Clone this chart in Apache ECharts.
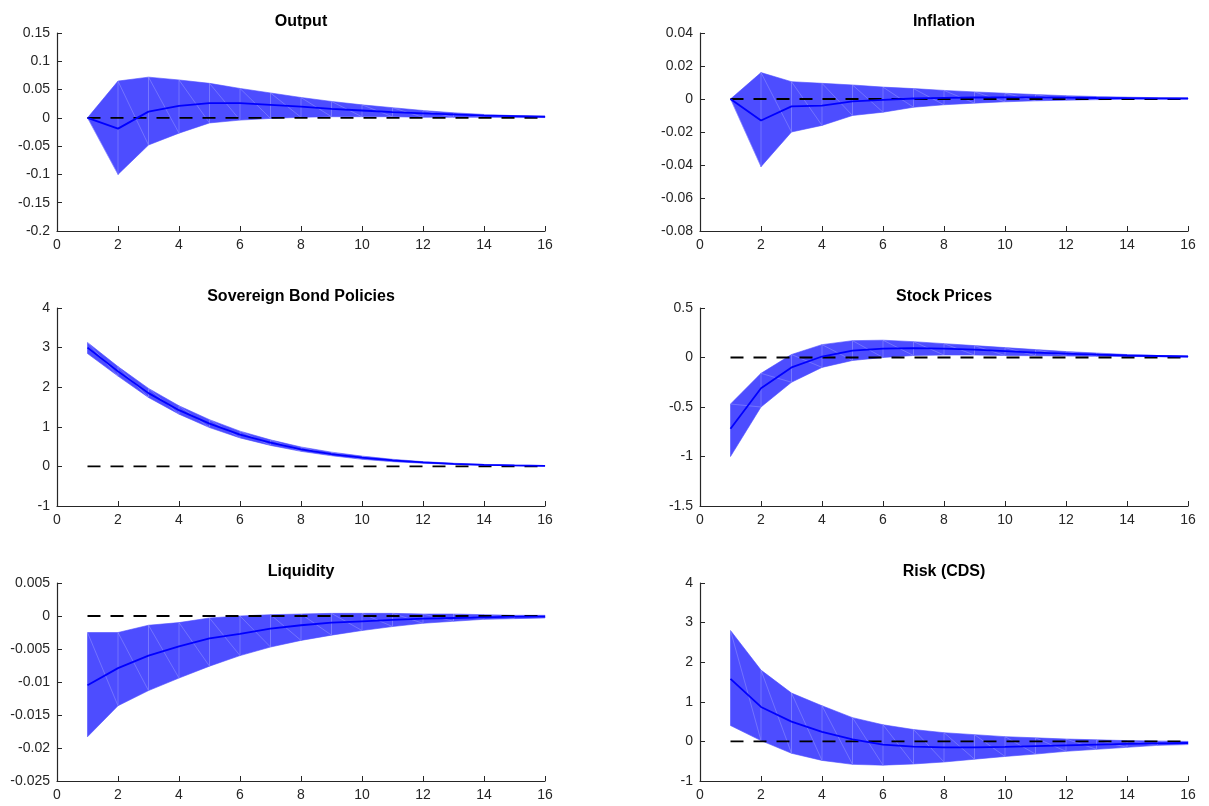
<!DOCTYPE html>
<html>
<head>
<meta charset="utf-8">
<script src="https://cdn.jsdelivr.net/npm/echarts@6/dist/echarts.min.js"></script>
<style>
html,body{margin:0;padding:0;background:#fff;}
#chart{width:1209px;height:806px;}
</style>
</head>
<body>
<div id="chart"></div>
<script>
// Horizons
const horizons = [1,2,3,4,5,6,7,8,9,10,11,12,13,14,15,16];

// Panel titles
const titles = ['Output','Inflation','Sovereign Bond Policies','Stock Prices','Liquidity','Risk (CDS)'];

// Output
const outputMedian = [0,-0.019,0.011,0.021,0.026,0.026,0.023,0.020,0.016,0.013,0.010,0.008,0.006,0.004,0.003,0.002];
const outputUpper  = [0,0.065,0.072,0.067,0.061,0.052,0.044,0.036,0.029,0.023,0.018,0.013,0.009,0.006,0.004,0.003];
const outputLower  = [0,-0.100,-0.048,-0.027,-0.009,-0.004,-0.001,0.001,0.002,0.002,0.002,0.001,0.001,0.001,0.0005,0.0005];

// Inflation
const inflationMedian = [0,-0.013,-0.0045,-0.004,-0.0015,-0.0005,0.0003,0.0007,0.0009,0.001,0.001,0.0008,0.0006,0.0005,0.0004,0.0003];
const inflationUpper  = [0,0.016,0.0105,0.0095,0.0085,0.0072,0.0063,0.0052,0.0043,0.0035,0.0027,0.002,0.0015,0.0011,0.0008,0.0006];
const inflationLower  = [0,-0.041,-0.020,-0.016,-0.010,-0.008,-0.005,-0.0035,-0.0025,-0.0017,-0.0011,-0.0007,-0.0004,-0.0002,-0.0001,0];

// Sovereign Bond Policies
const bondMedian = [3.0,2.4,1.85,1.42,1.08,0.80,0.60,0.43,0.31,0.22,0.15,0.10,0.065,0.04,0.025,0.015];
const bondUpper  = [3.13,2.52,1.97,1.53,1.18,0.89,0.67,0.49,0.36,0.26,0.18,0.12,0.08,0.05,0.03,0.02];
const bondLower  = [2.85,2.28,1.74,1.32,0.98,0.72,0.53,0.38,0.27,0.18,0.12,0.08,0.05,0.03,0.015,0.005];

// Stock Prices
const stockMedian = [-0.72,-0.31,-0.10,0.01,0.07,0.09,0.095,0.09,0.08,0.065,0.05,0.04,0.03,0.02,0.015,0.01];
const stockUpper  = [-0.47,-0.16,0.03,0.13,0.17,0.175,0.16,0.14,0.12,0.10,0.08,0.06,0.045,0.03,0.02,0.015];
const stockLower  = [-1.0,-0.50,-0.25,-0.10,-0.03,0.0,0.02,0.025,0.025,0.02,0.018,0.015,0.012,0.01,0.008,0.005];

// Liquidity
const liqMedian = [-0.0105,-0.0079,-0.0060,-0.0046,-0.0034,-0.0027,-0.0019,-0.0014,-0.0010,-0.0008,-0.0006,-0.0004,-0.0003,-0.0002,-0.0001,-0.0001];
const liqUpper  = [-0.0025,-0.0025,-0.0014,-0.0010,-0.0003,0.0,0.0002,0.0003,0.0004,0.0004,0.0004,0.0003,0.0003,0.0002,0.0001,0.0001];
const liqLower  = [-0.0183,-0.0136,-0.0113,-0.0094,-0.0076,-0.0060,-0.0047,-0.0037,-0.0029,-0.0022,-0.0016,-0.0011,-0.0008,-0.0005,-0.0004,-0.0003];

// Risk (CDS)
const riskMedian = [1.58,0.87,0.50,0.24,0.05,-0.08,-0.13,-0.15,-0.15,-0.14,-0.12,-0.10,-0.08,-0.06,-0.05,-0.04];
const riskUpper  = [2.80,1.80,1.22,0.90,0.60,0.42,0.30,0.22,0.17,0.12,0.09,0.06,0.04,0.02,0.01,0.0];
const riskLower  = [0.40,0.02,-0.30,-0.48,-0.58,-0.60,-0.57,-0.52,-0.45,-0.38,-0.32,-0.25,-0.20,-0.15,-0.10,-0.08];

// Y axis ranges [min, max, interval]
const yRanges = [[-0.2,0.15,0.05],[-0.08,0.04,0.02],[-1,4,1],[-1.5,0.5,0.5],[-0.025,0.005,0.005],[-1,4,1]];

const panels = [
  [outputMedian, outputUpper, outputLower],
  [inflationMedian, inflationUpper, inflationLower],
  [bondMedian, bondUpper, bondLower],
  [stockMedian, stockUpper, stockLower],
  [liqMedian, liqUpper, liqLower],
  [riskMedian, riskUpper, riskLower]
];

const AX = '#262626';
const FONT = '"Liberation Sans", Arial, Helvetica, sans-serif';
const colLeft = [57, 700];
const rowTop = [33, 308, 583];
const gw = 488, gh = 198;
const SEAM = 'rgba(255,255,255,0.35)';

const grids = [], xAxes = [], yAxes = [], titleOpts = [], series = [];
panels.forEach((p, i) => {
  const col = i % 2, row = Math.floor(i / 2);
  const [med, up, lo] = p;
  grids.push({left: colLeft[col], top: rowTop[row], width: gw, height: gh, containLabel: false});
  xAxes.push({
    gridIndex: i, type: 'value', min: 0, max: 16, interval: 2,
    axisLine: {onZero: false, lineStyle: {color: AX, width: 1.2}},
    axisTick: {inside: true, length: 5, lineStyle: {color: AX}},
    axisLabel: {color: AX, fontSize: 14, fontFamily: FONT, margin: 7},
    splitLine: {show: false}
  });
  yAxes.push({
    gridIndex: i, type: 'value', min: yRanges[i][0], max: yRanges[i][1], interval: yRanges[i][2],
    axisLine: {show: true, onZero: false, lineStyle: {color: AX, width: 1.2}},
    axisTick: {show: true, inside: true, length: 5, lineStyle: {color: AX}},
    axisLabel: {color: AX, fontSize: 14, fontFamily: FONT, margin: 7},
    splitLine: {show: false}
  });
  titleOpts.push({
    text: titles[i],
    left: colLeft[col] + gw / 2, top: rowTop[row] - 19,
    textAlign: 'center', padding: 0,
    textStyle: {fontSize: 16, fontWeight: 'bold', color: '#000', fontFamily: FONT}
  });
  // confidence band as quads between consecutive horizons
  series.push({
    type: 'custom', xAxisIndex: i, yAxisIndex: i, silent: true, z: 1,
    data: horizons.map((h, k) => [h, lo[k], up[k]]),
    renderItem: function (params, api) {
      const k = params.dataIndex;
      if (k >= horizons.length - 1) return null;
      const a1 = api.coord([horizons[k], lo[k]]);
      const a2 = api.coord([horizons[k], up[k]]);
      const b2 = api.coord([horizons[k + 1], up[k + 1]]);
      const b1 = api.coord([horizons[k + 1], lo[k + 1]]);
      const children = [
        {type: 'polygon', shape: {points: [a1, a2, b2, b1]}, style: {fill: '#4d4dff', stroke: '#4d4dff', lineWidth: 0.6}},
        {type: 'line', shape: {x1: a2[0], y1: a2[1], x2: b1[0], y2: b1[1]}, style: {stroke: SEAM, lineWidth: 0.6}}
      ];
      if (k > 0) {
        children.push({type: 'line', shape: {x1: a1[0], y1: a1[1], x2: a2[0], y2: a2[1]}, style: {stroke: SEAM, lineWidth: 0.6}});
      }
      return {type: 'group', children: children};
    }
  });
  series.push({
    type: 'line', xAxisIndex: i, yAxisIndex: i,
    data: [[horizons[0], 0], [horizons[horizons.length - 1], 0]],
    symbol: 'none', lineStyle: {color: '#000', width: 1.8, type: [13, 10]}, silent: true, z: 3
  });
  series.push({
    type: 'line', xAxisIndex: i, yAxisIndex: i,
    data: horizons.map((h, k) => [h, med[k]]),
    symbol: 'none', lineStyle: {color: '#0000ff', width: 1.8}, silent: true, z: 4
  });
});

const chart = echarts.init(document.getElementById('chart'), null, {renderer: 'canvas'});
chart.setOption({
  animation: false,
  backgroundColor: '#fff',
  title: titleOpts,
  grid: grids,
  xAxis: xAxes,
  yAxis: yAxes,
  series: series
});
</script>
</body>
</html>
